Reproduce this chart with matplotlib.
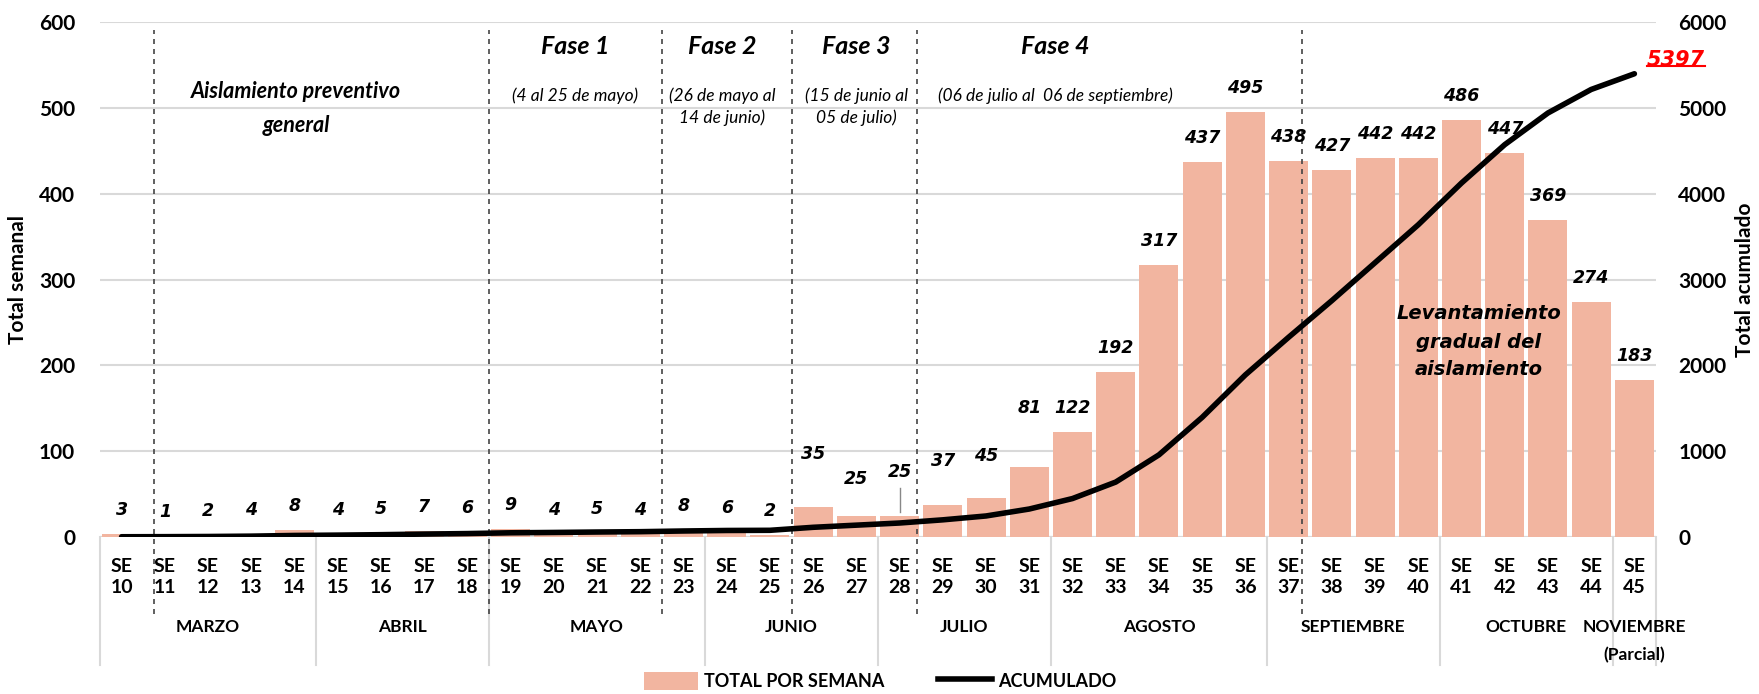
import matplotlib
matplotlib.use("Agg")
import matplotlib.pyplot as plt
import matplotlib.transforms as mtransforms
from matplotlib.patches import Patch
from matplotlib.lines import Line2D
import numpy as np

plt.rcParams['font.family'] = ['Lato', 'DejaVu Sans']

# datos
semanas = list(range(10, 46))
total_semana = [3, 1, 2, 4, 8, 4, 5, 7, 6, 9, 4, 5, 4, 8, 6, 2, 35, 25, 25, 37, 45, 81,
                122, 192, 317, 437, 495, 438, 427, 442, 442, 486, 447, 369, 274, 183]
meses = ['MARZO', 'ABRIL', 'MAYO', 'JUNIO', 'JULIO', 'AGOSTO', 'SEPTIEMBRE', 'OCTUBRE', 'NOVIEMBRE']
semanas_por_mes = [5, 4, 5, 4, 4, 5, 4, 4, 1]
acumulado = np.cumsum(total_semana)

# desplazamiento de etiquetas (unidades eje izq)
label_off = [28] * len(total_semana)
for se, off in {26: 62, 27: 43, 28: 51, 29: 52, 30: 49, 31: 69}.items():
    label_off[se - 10] = off

bar_color = '#F2B5A0'
grid_color = '#D9D9D9'

fig = plt.figure(figsize=(17.59, 6.94), dpi=100)
ax = fig.add_axes([100 / 1759, 1 - 537 / 694, 1556 / 1759, 515 / 694])
ax2 = ax.twinx()

x = np.arange(len(semanas))
ax.bar(x, total_semana, width=0.9, color=bar_color, zorder=2)
ax2.plot(x, acumulado, color='black', linewidth=4, zorder=3, solid_capstyle='round')

ax.set_xlim(-0.5, len(semanas) - 0.5)
ax.set_ylim(0, 600)
ax2.set_ylim(0, 6000)
ax.set_yticks(range(0, 601, 100))
ax2.set_yticks(range(0, 6001, 1000))
ax.yaxis.grid(True, color=grid_color, linewidth=1.5, zorder=0)
ax.set_axisbelow(True)
for a in (ax, ax2):
    for s in a.spines.values():
        s.set_visible(False)
    a.tick_params(length=0, labelsize=15)
    for lab in a.get_yticklabels():
        lab.set_fontweight('bold')
ax.tick_params(axis='y', pad=18)
ax2.tick_params(axis='y', pad=16)
ax.axhline(0, color=grid_color, linewidth=1.5, zorder=1)

ax.set_ylabel('Total semanal', fontsize=15, fontweight='bold', labelpad=8)
ax2.set_ylabel('Total acumulado', fontsize=15, fontweight='bold', labelpad=6)

ax.set_xticks(x)
ax.set_xticklabels([f'SE\n{s}' for s in semanas], fontsize=14, fontweight='bold',
                   linespacing=1.3)
ax.tick_params(axis='x', pad=15, labelsize=14)

trans = mtransforms.blended_transform_factory(ax.transData, ax.transAxes)

# separadores y etiquetas de meses
bounds = [-0.5]
for n in semanas_por_mes:
    bounds.append(bounds[-1] + n)
for b in bounds:
    ax.plot([b, b], [0, -0.2485], color=grid_color, linewidth=1.5, transform=trans, clip_on=False)
for i, mes in enumerate(meses):
    xc = (bounds[i] + bounds[i + 1]) / 2
    ax.text(xc, -0.175, mes, transform=trans, ha='center', va='center',
            fontsize=12.5, fontweight='bold')
ax.text(bounds[-2] + 0.5, -0.229, '(Parcial)', transform=trans, ha='center', va='center',
        fontsize=12.5, fontweight='bold')

# lineas de fases
for xp in [0.75, 8.5, 12.5, 15.5, 18.4, 27.3]:
    ax.plot([xp, xp], [-0.15, 0.985], color='#444444', linewidth=1.2, linestyle=(0, (3, 3)),
            transform=trans, clip_on=False, zorder=4)

# etiquetas de barras
for xi, v, off in zip(x, total_semana, label_off):
    ax.text(xi, v + off, str(v), ha='center', va='center', fontsize=12.5,
            fontweight='bold', fontstyle='italic', family='DejaVu Sans', zorder=5)
i28 = semanas.index(28)
ax.plot([i28, i28], [total_semana[i28] + 4, total_semana[i28] + 32], color='#888888', linewidth=1, zorder=4)

# textos de fases
big = dict(ha='center', va='center', fontweight='bold', fontstyle='italic')
ax.text(4.04, 519, 'Aislamiento preventivo', fontsize=15.5, **big)
ax.text(4.04, 480, 'general', fontsize=15.5, **big)
fases = [(10.5, 'Fase 1', ['(4 al 25 de mayo)']),
         (13.9, 'Fase 2', ['(26 de mayo al', '14 de junio)']),
         (17.0, 'Fase 3', ['(15 de junio al', '05 de julio)']),
         (21.6, 'Fase 4', ['(06 de julio al  06 de septiembre)'])]
for xf, titulo, sub in fases:
    ax.text(xf, 571, titulo, fontsize=18, **big)
    for k, s in enumerate(sub):
        ax.text(xf, 514 - 25 * k, s, fontsize=12.5, ha='center', va='center', fontstyle='italic')

lev = dict(ha='center', va='center', fontsize=14, fontweight='bold', fontstyle='italic',
           family='DejaVu Sans', zorder=5)
ax.text(31.4, 260, 'Levantamiento', **lev)
ax.text(31.4, 227, 'gradual del', **lev)
ax.text(31.4, 195, 'aislamiento', **lev)

# total final
t = ax2.text(len(semanas) - 1 + 0.96, 5560, str(acumulado[-1]), color='red',
             ha='center', va='center', fontsize=15, fontweight='bold', fontstyle='italic',
             family='DejaVu Sans', zorder=5)
fig.canvas.draw()
bb = t.get_window_extent().transformed(ax2.transData.inverted())
ax2.plot([bb.x0, bb.x1], [bb.y0 + 40, bb.y0 + 40], color='red', linewidth=1.5, clip_on=False)

# leyenda
handles = [Patch(facecolor=bar_color, edgecolor='none'),
           Line2D([], [], color='black', linewidth=4)]
fig.legend(handles, ['TOTAL POR SEMANA', 'ACUMULADO'], loc='center',
           bbox_to_anchor=(880 / 1759, 1 - 681 / 694), ncol=2, frameon=False,
           prop={'weight': 'bold', 'size': 13}, handlelength=3, handleheight=1.2,
           handletextpad=0.3, columnspacing=3.0)

fig.savefig('out.png', dpi=100)
